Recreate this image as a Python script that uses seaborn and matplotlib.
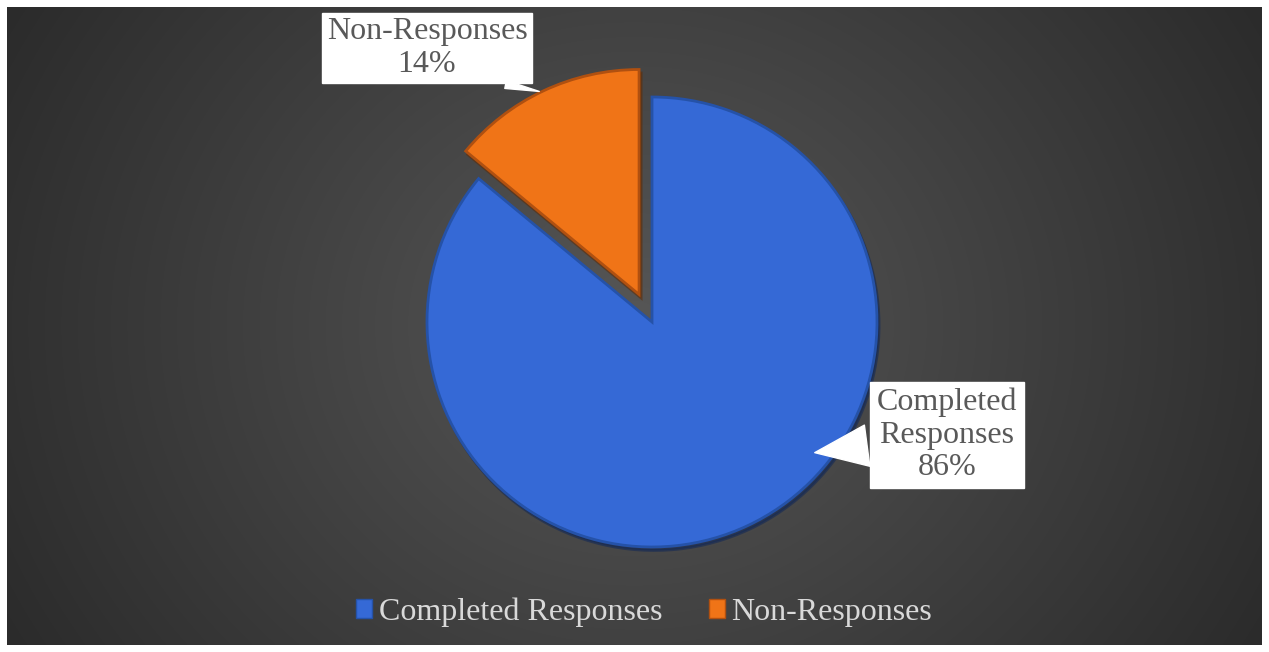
import numpy as np
import matplotlib
matplotlib.use("Agg")
import matplotlib.pyplot as plt
import seaborn as sns
from matplotlib.patches import Patch

categories = ["Completed Responses", "Non-Responses"]
values = [86, 14]
label_texts = ["Completed\nResponses\n86%", "Non-Responses\n14%"]

sns.set_theme(style="white")
plt.rcParams['font.family'] = ['Liberation Serif', 'DejaVu Serif']

W, H = 1269, 652
fig = plt.figure(figsize=(W / 100, H / 100), dpi=100)
fig.patch.set_facecolor("white")

# background gradient panel
m = 7
bg = fig.add_axes([m / W, m / H, (W - 2 * m) / W, (H - 2 * m) / H])
yy, xx = np.mgrid[0:1:300j, 0:1:600j]
d = np.sqrt(((xx - 0.5) * 1.75) ** 2 + ((yy - 0.5) * 1.0) ** 2)
shade = 0.34 - 0.17 * np.clip(d, 0, 1.0)
img = np.dstack([shade, shade, shade])
bg.imshow(img, aspect="auto", extent=[0, 1, 0, 1], interpolation="bilinear")
bg.set_axis_off()

ax = fig.add_axes([0, 0, 1, 1])
ax.set_axis_off()
ax.patch.set_alpha(0)

colors = ["#3569d6", "#f07417"]
edges = ["#2552a8", "#b05010"]
cx, cy, r = 652, H - 322, 225
wedges, _ = ax.pie(values, colors=colors, startangle=90, counterclock=False,
                   explode=[0, 0.135 * r], center=(cx, cy), radius=r,
                   shadow=dict(ox=1.5, oy=-2.5, shade=0.6, alpha=0.6),
                   wedgeprops=dict(linewidth=2.0))
for w, e in zip(wedges, edges):
    w.set_edgecolor(e)
ax.set_xlim(0, W)
ax.set_ylim(0, H)
ax.set_aspect("equal")
ax.set_axis_off()

txt_color = "#595959"
fs = 23
# Completed callout
ax.annotate(label_texts[0], xy=(812, H - 453), xytext=(947, H - 435),
            ha="center", va="center", fontsize=fs, color=txt_color,
            linespacing=1.15,
            bbox=dict(boxstyle="square,pad=0.2", fc="white", ec="white"),
            arrowprops=dict(arrowstyle="wedge,tail_width=1.3,shrink_factor=0.5",
                            fc="white", ec="white", relpos=(0.0, 0.4)))
# Non-Responses callout
ax.annotate(label_texts[1], xy=(542, H - 92), xytext=(427, H - 48),
            ha="center", va="center", fontsize=fs, color=txt_color,
            linespacing=1.15,
            bbox=dict(boxstyle="square,pad=0.15", fc="white", ec="white"),
            arrowprops=dict(arrowstyle="wedge,tail_width=0.25,shrink_factor=0.5",
                            fc="white", ec="white", relpos=(0.75, 0.0)))

handles = [Patch(facecolor=c, edgecolor=e) for c, e in zip(colors, edges)]
leg = fig.legend(handles, categories, loc="center", bbox_to_anchor=(644 / W, 1 - 612 / H),
                 ncol=2, frameon=False, fontsize=fs, handlelength=0.5, handleheight=0.5,
                 handletextpad=0.2, columnspacing=1.45)
for t in leg.get_texts():
    t.set_color("#d9d9d9")

fig.savefig("out.png", dpi=100, facecolor="white")
